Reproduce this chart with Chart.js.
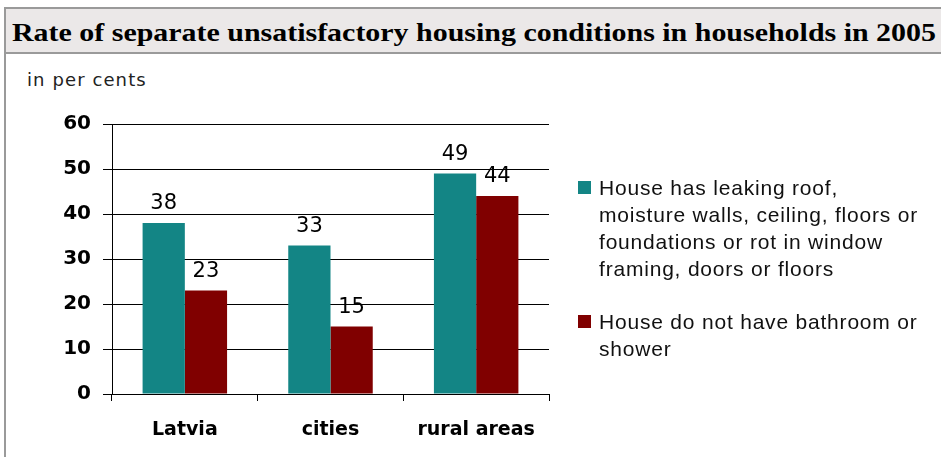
<!DOCTYPE html>
<html>
<head>
<meta charset="utf-8">
<script src="https://cdn.jsdelivr.net/npm/chart.js@4/dist/chart.umd.min.js"></script>
<style>
  html, body { margin: 0; padding: 0; background: #fff; }
  #page { position: relative; width: 941px; height: 457px; overflow: hidden; }
  #frame { position: absolute; left: 4px; top: 7px; width: 960px; height: 470px;
           border-left: 2px solid #9a9a9a; border-top: 2px solid #9a9a9a; }
  #title { position: absolute; left: 6px; top: 9px; width: 935px; height: 45px;
           background: #ebe8e8; border-bottom: 2px solid #9a9a9a;
           font: bold 26px "Liberation Serif", serif; color: #000;
           line-height: 47px; white-space: nowrap; padding-left: 6px; box-sizing: border-box; }
  #title span { display: inline-block; transform-origin: 0 50%; }
  #unit { position: absolute; left: 27px; top: 69px; font: 18px "DejaVu Sans", sans-serif;
          letter-spacing: 1.1px; color: #222; }
  #chart { position: absolute; left: 0; top: 0; }
  #legend { position: absolute; left: 578px; top: 174px; width: 363px;
            font: 21px "Liberation Sans", Arial, sans-serif; letter-spacing: 0.8px;
            color: #111; line-height: 27px; }
  .item { position: relative; padding-left: 21px; margin-bottom: 26px; white-space: nowrap; }
  .swatch { position: absolute; left: 0; top: 7px; width: 13px; height: 13px; }
</style>
</head>
<body>
<div id="page">
  <div id="frame"></div>
  <div id="title"><span>Rate of separate unsatisfactory housing conditions in households in 2005</span></div>
  <div id="unit">in per cents</div>
  <canvas id="chart" width="941" height="457"></canvas>
  <div id="legend"></div>
</div>
<script>
const categories = ["Latvia", "cities", "rural areas"];
const leakingRoof = [38, 33, 49];
const noBathroom = [23, 15, 44];
const seriesNames = [
  ["House has leaking roof,", "moisture walls, ceiling, floors or", "foundations or rot in window", "framing, doors or floors"],
  ["House do not have bathroom or", "shower"]
];
const yTicks = [0, 10, 20, 30, 40, 50, 60];
const colors = ["#138585", "#800000"];

// stretch the heading across the band
const titleSpan = document.querySelector("#title span");
titleSpan.style.transform = `scaleX(${924 / titleSpan.getBoundingClientRect().width})`;

// value labels above each bar
const valueLabels = {
  id: "valueLabels",
  afterDatasetsDraw(chart) {
    const ctx = chart.ctx;
    ctx.save();
    ctx.font = '21px "DejaVu Sans", sans-serif';
    ctx.fillStyle = "#000";
    ctx.textAlign = "center";
    ctx.textBaseline = "alphabetic";
    chart.data.datasets.forEach((ds, i) => {
      chart.getDatasetMeta(i).data.forEach((bar, j) => {
        ctx.fillText(ds.data[j], bar.x, bar.y - 14);
      });
    });
    ctx.restore();
  }
};

new Chart(document.getElementById("chart"), {
  type: "bar",
  data: {
    labels: categories,
    datasets: [
      { label: seriesNames[0].join(" "), data: leakingRoof, backgroundColor: colors[0] },
      { label: seriesNames[1].join(" "), data: noBathroom, backgroundColor: colors[1] }
    ]
  },
  options: {
    responsive: false,
    animation: false,
    devicePixelRatio: 1,
    barPercentage: 1,
    categoryPercentage: 0.58,
    layout: { padding: { left: 62, right: 392, top: 124, bottom: 13 } },
    plugins: { legend: { display: false }, tooltip: { enabled: false } },
    scales: {
      y: {
        min: 0, max: 60,
        afterFit: s => { s.width = 50; },
        afterBuildTicks: s => { s.ticks = yTicks.map(v => ({ value: v })); },
        border: { color: "#000", width: 1 },
        grid: { color: "#000", lineWidth: 1, tickLength: 9, drawTicks: true },
        ticks: { color: "#000", padding: 12, font: { family: "DejaVu Sans", size: 20, weight: "bold" } }
      },
      x: {
        afterFit: s => { s.height = 50; },
        border: { color: "#000", width: 1 },
        grid: { color: "#000", drawOnChartArea: false, tickLength: 7 },
        ticks: { color: "#000", padding: 18, font: { family: "DejaVu Sans", size: 19, weight: "bold" } }
      }
    }
  },
  plugins: [valueLabels]
});

// legend built from the series arrays
const legend = document.getElementById("legend");
seriesNames.forEach((lines, i) => {
  const item = document.createElement("div");
  item.className = "item";
  item.innerHTML = `<span class="swatch" style="background:${colors[i]}"></span>${lines.join("<br>")}`;
  legend.appendChild(item);
});
</script>
</body>
</html>
